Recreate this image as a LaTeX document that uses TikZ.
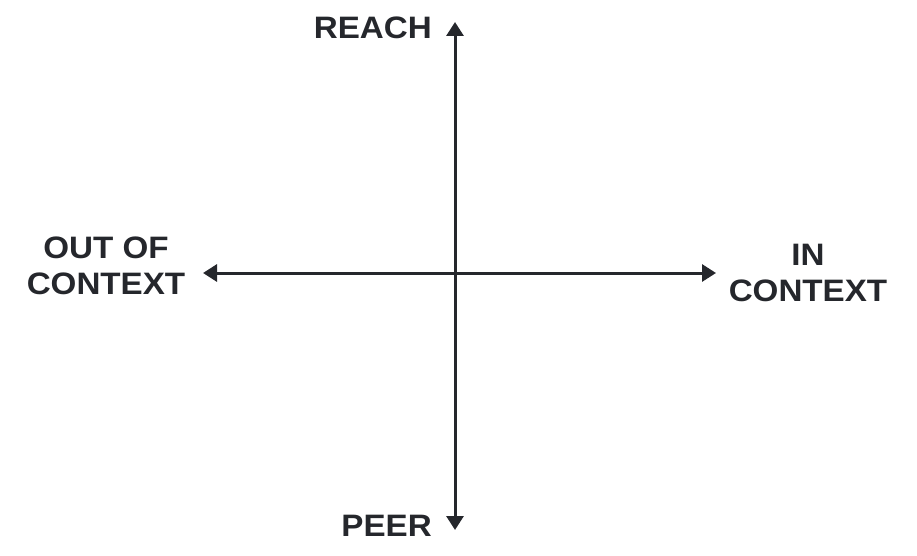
\documentclass[tikz,border=0pt]{standalone}
\usepackage{fontspec}
\setmainfont{Liberation Sans}[FakeStretch=1.07]
\usetikzlibrary{arrows.meta}
\definecolor{axisgray}{HTML}{25272C}
\tikzset{
    axislabel/.style={text=axisgray, font=\bfseries\fontsize{31}{36}\selectfont, align=center, inner sep=0pt},
    axisline/.style={draw=axisgray, line width=3pt, {Triangle[length=14pt,width=17pt]}-{Triangle[length=14pt,width=17pt]}}
}
\begin{document}
\begin{tikzpicture}[x=1pt,y=-1pt]
                \useasboundingbox (0,0) rectangle (917,556);
                \coordinate (top) at (455,22);
                \coordinate (bottom) at (455,530);
                \coordinate (left) at (203,273);
                \coordinate (right) at (716,273);
                \draw[axisline](bottom)--(top);
                \draw[axisline](left)--(right);
                \node[axislabel, anchor=east] (reach) at (432,28) {REACH};
                \node[axislabel, anchor=east] (peer) at (432,526) {PEER};
                \node[axislabel] (out) at (106,266) {OUT OF\\CONTEXT};
                \node[axislabel] (in) at (808,273) {IN\\CONTEXT};
            \end{tikzpicture}
\end{document}
